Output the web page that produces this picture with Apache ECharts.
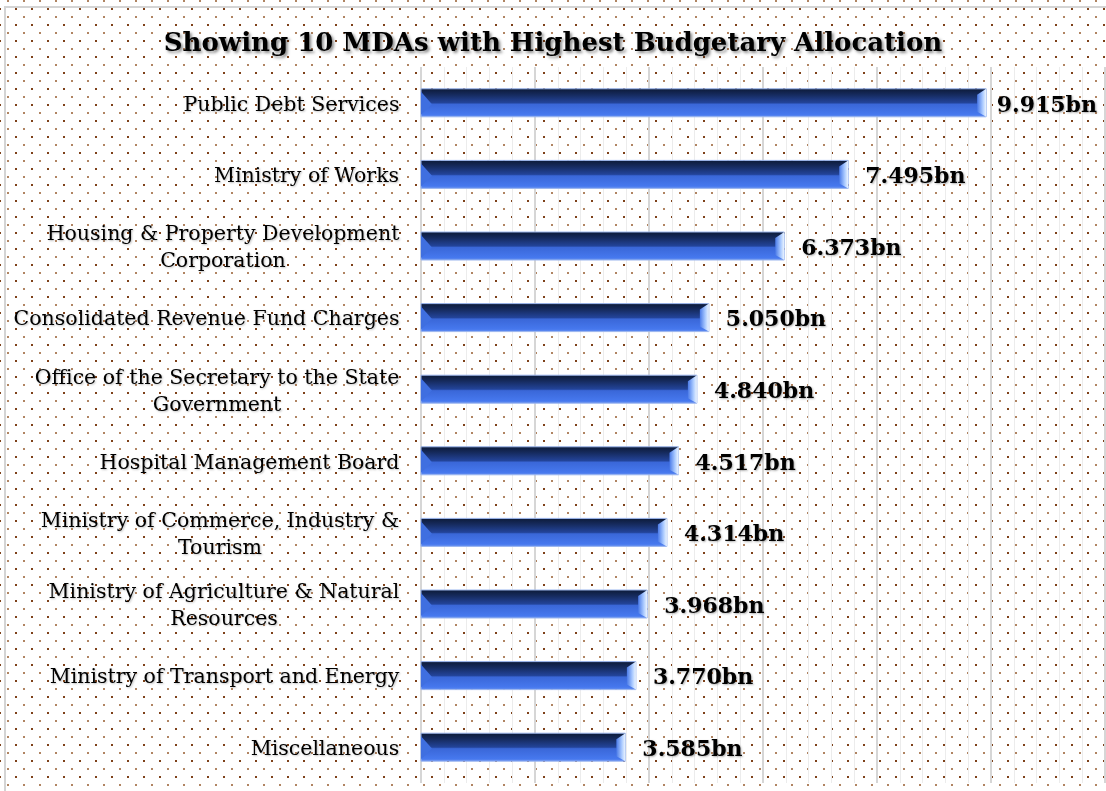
<!DOCTYPE html>
<html>
<head>
<meta charset="utf-8">
<script src="https://cdn.jsdelivr.net/npm/echarts@6/dist/echarts.min.js"></script>
<style>
html,body{margin:0;padding:0;background:#fff;}
#tubiao{width:1106px;height:791px;}
</style>
</head>
<body>
<div id="tubiao"></div>
<script>
// 数据
var categories = [
    'Public Debt Services',
    'Ministry of Works',
    'Housing & Property Development\nCorporation',
    'Consolidated Revenue Fund Charges',
    'Office of the Secretary to the State\nGovernment',
    'Hospital Management Board',
    'Ministry of Commerce, Industry &\nTourism',
    'Ministry of Agriculture & Natural\nResources',
    'Ministry of Transport and Energy',
    'Miscellaneous'
];
var values = [9.915, 7.495, 6.373, 5.050, 4.840, 4.517, 4.314, 3.968, 3.770, 3.585];
var titleText = 'Showing 10 MDAs with Highest Budgetary Allocation';

var labelSize = 20.5;
var labelFont = labelSize + 'px "DejaVu Serif"';
var valueFont = 'bold 22px "DejaVu Serif"';

// 背景点阵
var tile = document.createElement('canvas');
tile.width = 16; tile.height = 16;
var tc = tile.getContext('2d');
tc.fillStyle = '#ffffff';
tc.fillRect(0, 0, 16, 16);
tc.fillStyle = '#b08462';
tc.fillRect(7, 0, 2, 2);
tc.fillStyle = '#7e4119';
tc.fillRect(15, 8, 2, 2);
tc.fillRect(-1, 8, 2, 2);

// 多行标签居中 - 量宽度
var mc = document.createElement('canvas').getContext('2d');
mc.font = labelFont;
var rich = {};
categories.forEach(function (c, i) {
    var w = 0;
    c.split('\n').forEach(function (s) { w = Math.max(w, mc.measureText(s).width); });
    rich['r' + i] = {
        width: Math.ceil(w) + 1,
        align: 'center',
        fontFamily: 'DejaVu Serif',
        fontSize: labelSize,
        lineHeight: 27,
        color: '#000',
        textShadowColor: 'rgba(0,0,0,0.25)',
        textShadowBlur: 2,
        textShadowOffsetX: 1,
        textShadowOffsetY: 1
    };
});
mc.font = valueFont;

var myChart = echarts.init(document.getElementById('tubiao'));
var option = {
    animation: false,
    graphic: [
        {
            type: 'rect', z: -10, silent: true,
            shape: {x: 0, y: 0, width: 1106, height: 791},
            style: {fill: {image: tile, repeat: 'repeat'}}
        },
        {
            type: 'rect', z: -9, silent: true,
            shape: {x: 5, y: 7, width: 1110, height: 800},
            style: {fill: 'none', stroke: '#d4d4d4', lineWidth: 2}
        }
    ],
    title: {
        text: titleText,
        left: 'center',
        top: 31,
        padding: 0,
        textStyle: {
            fontFamily: 'DejaVu Serif',
            fontWeight: 'bold',
            fontSize: 26,
            color: '#000',
            textShadowColor: 'rgba(0,0,0,0.45)',
            textShadowBlur: 3,
            textShadowOffsetX: 2,
            textShadowOffsetY: 2
        }
    },
    grid: {left: 421, right: 1, top: 67, bottom: 8, containLabel: false},
    xAxis: {
        type: 'value',
        min: 0,
        max: 12,
        interval: 2,
        axisLabel: {show: false},
        axisLine: {show: false},
        axisTick: {show: false},
        minorTick: {show: false, splitNumber: 5},
        splitLine: {show: true, lineStyle: {color: '#d6d6d6', width: 2}},
        minorSplitLine: {show: true, lineStyle: {color: '#ececec', width: 1}}
    },
    yAxis: {
        type: 'category',
        data: categories,
        inverse: true,
        axisLine: {show: false},
        axisTick: {show: false},
        axisLabel: {
            margin: 21,
            padding: [5, 0, 0, 0],
            formatter: function (v, i) { return '{r' + i + '|' + v + '}'; },
            rich: rich
        }
    },
    series: [
        {
            type: 'custom',
            data: values.map(function (v, i) { return [v, i]; }),
            encode: {x: 0, y: 1},
            renderItem: function (params, api) {
                var p0 = api.coord([0, api.value(1)]);
                var p1 = api.coord([api.value(0), api.value(1)]);
                var h = 28;
                var x0 = p0[0], x1 = p1[0], y0 = p0[1] - h / 2, y1 = p0[1] + h / 2;
                var txt = api.value(0).toFixed(3) + 'bn';
                var tx = Math.min(x1 + 17, 1097 - mc.measureText(txt).width);
                return {
                    type: 'group',
                    children: [
                        {
                            type: 'rect',
                            shape: {x: x0, y: y0, width: x1 - x0, height: h},
                            style: {
                                fill: new echarts.graphic.LinearGradient(0, 0, 0, 1, [
                                    {offset: 0, color: '#0c1a36'},
                                    {offset: 0.2, color: '#15295a'},
                                    {offset: 0.5, color: '#23449a'},
                                    {offset: 0.55, color: '#3a67d8'},
                                    {offset: 0.9, color: '#4678ee'},
                                    {offset: 1, color: '#6d95f0'}
                                ]),
                                stroke: '#9bb6ee',
                                lineWidth: 1
                            }
                        },
                        {
                            type: 'polygon',
                            shape: {points: [[x0, y0 + 3], [x0 + 11, y0 + h * 0.55], [x0, y1 - 2]]},
                            style: {fill: '#3f6fe0'}
                        },
                        {
                            type: 'polygon',
                            shape: {points: [[x1 - 9, y0 + 6], [x1, y0], [x1, y1], [x1 - 9, y1 - 5]]},
                            style: {
                                fill: new echarts.graphic.LinearGradient(0, 0, 1, 0, [
                                    {offset: 0, color: '#4a7ae8'},
                                    {offset: 0.6, color: '#a9c9ff'},
                                    {offset: 1, color: '#eef6ff'}
                                ])
                            }
                        },
                        {
                            type: 'text',
                            style: {
                                x: tx,
                                y: p0[1] + 3,
                                text: txt,
                                verticalAlign: 'middle',
                                align: 'left',
                                fontFamily: 'DejaVu Serif',
                                fontWeight: 'bold',
                                fontSize: 22,
                                fill: '#000',
                                textShadowColor: 'rgba(0,0,0,0.3)',
                                textShadowBlur: 2,
                                textShadowOffsetX: 1,
                                textShadowOffsetY: 1
                            }
                        }
                    ]
                };
            }
        }
    ]
};
myChart.setOption(option);
</script>
</body>
</html>
